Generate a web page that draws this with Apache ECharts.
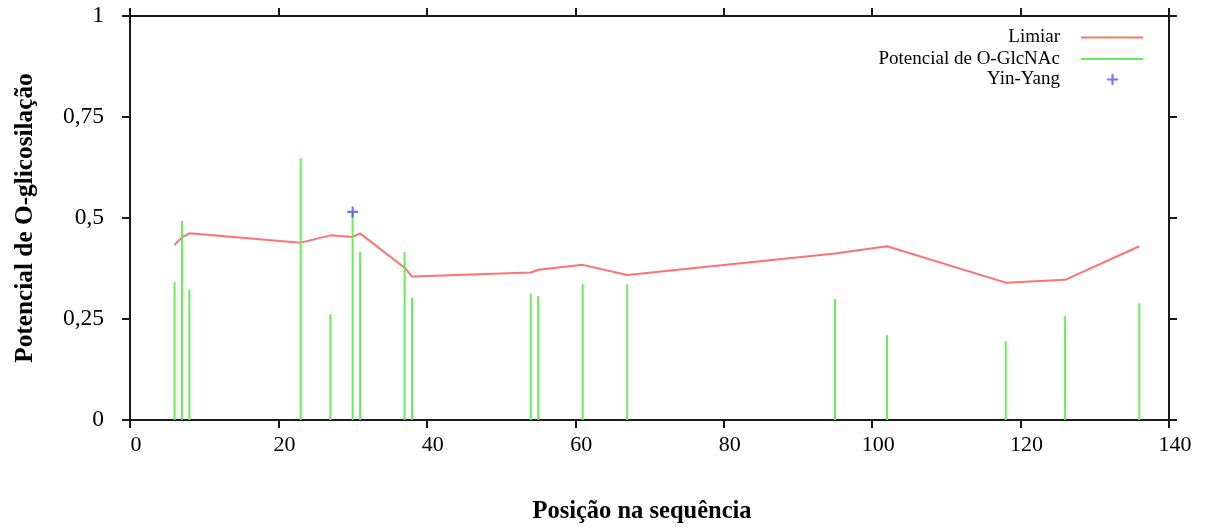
<!DOCTYPE html>
<html>
<head>
<meta charset="utf-8">
<script src="https://cdn.jsdelivr.net/npm/echarts@6/dist/echarts.min.js"></script>
<style>
html,body{margin:0;padding:0;background:#fff;}
#chart{width:1207px;height:529px;}
</style>
</head>
<body>
<div id="chart"></div>
<script>
// Data
const positions = [6, 7, 8, 23, 27, 30, 31, 37, 38, 54, 55, 61, 67, 95, 102, 118, 126, 136];
const potential = [0.341, 0.493, 0.322, 0.648, 0.262, 0.515, 0.416, 0.416, 0.303, 0.313, 0.307, 0.336, 0.336, 0.299, 0.210, 0.195, 0.257, 0.289];
const threshold = [0.433, 0.452, 0.462, 0.439, 0.457, 0.453, 0.462, 0.377, 0.355, 0.365, 0.372, 0.384, 0.359, 0.412, 0.430, 0.340, 0.347, 0.430];
const yinYangPos = [30];
const yinYangVal = [0.515];
const xTicks = [0, 20, 40, 60, 80, 100, 120, 140];
const yTickLabels = ['0', '0,25', '0,5', '0,75', '1'];
const seriesNames = ['Limiar', 'Potencial de O-GlcNAc', 'Yin-Yang'];

const FONT = '"Liberation Serif", "Times New Roman", serif';
const AXC = '#1a1a1a';
const plusPath = 'path://M4,0 L6,0 L6,4 L10,4 L10,6 L6,6 L6,10 L4,10 L4,6 L0,6 L0,4 L4,4 Z';

const chart = echarts.init(document.getElementById('chart'), null, {renderer: 'canvas'});

const commonX = {
  type: 'value', min: xTicks[0], max: xTicks[xTicks.length - 1], interval: 20,
  axisLine: {show: true, onZero: false, lineStyle: {color: AXC, width: 2}},
  axisTick: {show: true, inside: false, length: 8, lineStyle: {color: AXC, width: 2}},
  splitLine: {show: false}
};
const commonY = {
  type: 'value', min: 0, max: 1, interval: 0.25,
  axisLine: {show: true, onZero: false, lineStyle: {color: AXC, width: 2}},
  axisTick: {show: true, inside: false, length: 8, lineStyle: {color: AXC, width: 2}},
  splitLine: {show: false}
};

function legendFor(name, top, icon, w, h, padRight, right) {
  return {
    data: [{name: name, icon: icon}],
    orient: 'vertical', align: 'right',
    right: right, top: top,
    itemWidth: w, itemHeight: h,
    textStyle: {fontFamily: FONT, fontSize: 19, color: '#000', padding: [0, padRight, 0, 0]},
    selectedMode: false
  };
}

const option = {
  backgroundColor: '#fff',
  animation: false,
  grid: {left: 130, right: 38, top: 16, bottom: 106, containLabel: false},
  legend: [
    legendFor(seriesNames[0], 23, 'rect', 62, 2, 16, 59),
    legendFor(seriesNames[1], 44.5, 'rect', 62, 2, 16, 59),
    legendFor(seriesNames[2], 65, plusPath, 11, 11, 42, 84)
  ],
  xAxis: [
    Object.assign({}, commonX, {
      position: 'bottom',
      axisLabel: {show: true, margin: 14, fontFamily: FONT, fontSize: 22, color: '#000', padding: [0, 0, 0, 12]},
      name: 'Posição na sequência', nameLocation: 'middle', nameGap: 79,
      nameTextStyle: {fontFamily: FONT, fontSize: 24.5, fontWeight: 'bold', color: '#000', padding: [0, 15, 0, 0]}
    }),
    Object.assign({}, commonX, {position: 'top', axisLabel: {show: false}})
  ],
  yAxis: [
    Object.assign({}, commonY, {
      position: 'left',
      axisLabel: {show: true, margin: 26, fontFamily: FONT, fontSize: 23.5, color: '#000', padding: [9, 0, 0, 0],
        formatter: function (v) { return yTickLabels[Math.round(v / 0.25)]; }},
      name: 'Potencial de O-glicosilação', nameLocation: 'middle', nameGap: 92, nameRotate: 90,
      nameTextStyle: {fontFamily: FONT, fontSize: 25.3, fontWeight: 'bold', color: '#000'}
    }),
    Object.assign({}, commonY, {position: 'right', axisLabel: {show: false}})
  ],
  series: [
    {
      name: seriesNames[0], type: 'line', xAxisIndex: 0, yAxisIndex: 0,
      data: positions.map((p, i) => [p, threshold[i]]),
      showSymbol: false, symbol: 'none',
      lineStyle: {color: '#ff7272', width: 2},
      itemStyle: {color: '#ff7272'},
      z: 2
    },
    {
      name: seriesNames[1], type: 'bar', xAxisIndex: 0, yAxisIndex: 0,
      data: positions.map((p, i) => [p, potential[i]]),
      barWidth: 2,
      itemStyle: {color: '#62f052'},
      z: 3
    },
    {
      name: seriesNames[2], type: 'scatter', xAxisIndex: 0, yAxisIndex: 0,
      data: yinYangPos.map((p, i) => [p, yinYangVal[i]]),
      symbol: plusPath, symbolSize: 11,
      itemStyle: {color: '#4a55ff'},
      z: 4
    }
  ]
};
chart.setOption(option);
</script>
</body>
</html>
